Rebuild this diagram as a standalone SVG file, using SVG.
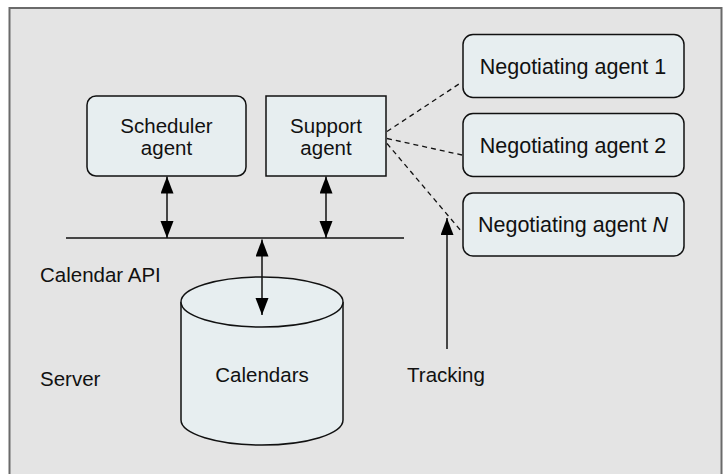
<svg xmlns="http://www.w3.org/2000/svg" width="726" height="474" viewBox="0 0 726 474">
  <defs>
    <style>
      .txt { font-family: "Liberation Sans", Arial, sans-serif; font-size: 20.5px; fill: #111; }
      .big { font-size: 21.5px; }
      .box { fill: #e7eef0; stroke: #111; stroke-width: 1.5; }
      .conn { stroke: #111; stroke-width: 1.5; fill: none; }
      .dash { stroke: #111; stroke-width: 1.3; fill: none; stroke-dasharray: 5 4; }
    </style>
    <marker id="ah" markerUnits="userSpaceOnUse" markerWidth="18" markerHeight="14" refX="17" refY="6.5" orient="auto-start-reverse">
      <path d="M0,0 L17,6.5 L0,13 z" fill="#000"/>
    </marker>
  </defs>

  <rect x="0" y="0" width="726" height="474" fill="#ffffff"/>
  <rect id="frame" x="9.5" y="8" width="712" height="475" fill="#e4e4e4" stroke="#6a6a6a" stroke-width="2"/>

  <g id="scheduler">
    <rect class="box" x="87" y="96" width="159" height="80" rx="9"/>
    <text class="txt" x="166.5" y="133" text-anchor="middle">Scheduler</text>
    <text class="txt" x="166.5" y="155" text-anchor="middle">agent</text>
  </g>

  <g id="support">
    <rect class="box" x="266" y="96" width="120" height="80"/>
    <text class="txt" x="326" y="133" text-anchor="middle">Support</text>
    <text class="txt" x="326" y="155" text-anchor="middle">agent</text>
  </g>

  <g id="neg1">
    <rect class="box" x="463" y="34.5" width="221" height="63" rx="10"/>
    <text class="txt big" x="573" y="74" text-anchor="middle">Negotiating agent 1</text>
  </g>
  <g id="neg2">
    <rect class="box" x="463" y="113.5" width="221" height="63" rx="10"/>
    <text class="txt big" x="573" y="153" text-anchor="middle">Negotiating agent 2</text>
  </g>
  <g id="negN">
    <rect class="box" x="463" y="193" width="221" height="63" rx="10"/>
    <text class="txt big" x="573" y="232" text-anchor="middle">Negotiating agent <tspan font-style="italic">N</tspan></text>
  </g>

  <g id="calendars">
    <path class="box" d="M181,302 L181,420 A81,25 0 0 0 343,420 L343,302 A81,25 0 0 0 181,302 Z"/>
    <path class="box" d="M181,302 A81,25 0 0 0 343,302" fill="none"/>
    <text class="txt" x="262" y="382" text-anchor="middle">Calendars</text>
  </g>

  <g id="labels">
    <text class="txt" x="40" y="282">Calendar API</text>
    <text class="txt" x="40" y="386">Server</text>
    <text class="txt" x="446" y="382" text-anchor="middle">Tracking</text>
  </g>

  <g id="connectors">
    <line class="conn" x1="66" y1="238" x2="404" y2="238"/>
    <line class="conn" x1="167" y1="176.5" x2="167" y2="238" marker-start="url(#ah)" marker-end="url(#ah)"/>
    <line class="conn" x1="326" y1="176.5" x2="326" y2="238" marker-start="url(#ah)" marker-end="url(#ah)"/>
    <line class="conn" x1="262" y1="239.5" x2="262" y2="315" marker-start="url(#ah)" marker-end="url(#ah)"/>
    <line class="conn" x1="447" y1="349" x2="447" y2="218" marker-end="url(#ah)"/>
    <line class="dash" x1="387" y1="131.5" x2="462" y2="82"/>
    <line class="dash" x1="387" y1="138.5" x2="462" y2="155"/>
    <line class="dash" x1="387" y1="143.5" x2="462" y2="232"/>
  </g>
</svg>
